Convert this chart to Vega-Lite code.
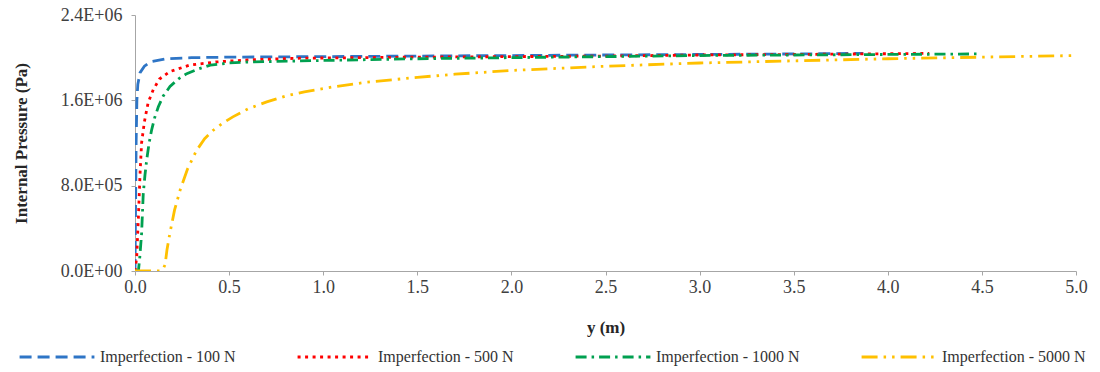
{
  "$schema": "https://vega.github.io/schema/vega-lite/v6.json",
  "width": 941,
  "height": 256,
  "autosize": "none",
  "padding": {"left": 135, "top": 15, "right": 24, "bottom": 101},
  "background": "white",
  "config": {
    "view": {"stroke": null},
    "font": "Liberation Serif",
    "axis": {"grid": false, "domainColor": "#a6a6a6", "tickColor": "#a6a6a6", "labelFont": "Liberation Serif", "labelFontSize": 18, "labelColor": "#404040", "titleFont": "Liberation Serif", "titleFontSize": 17, "titleFontWeight": "bold", "titleColor": "#262626"},
    "legend": {"labelFont": "Liberation Serif", "labelFontSize": 16, "labelColor": "#333333"}
  },
  "data": {"values": [
    {"s": "Imperfection - 100 N", "x": 0, "p": 0},
    {"s": "Imperfection - 100 N", "x": 0.003, "p": 600000},
    {"s": "Imperfection - 100 N", "x": 0.006, "p": 1200000},
    {"s": "Imperfection - 100 N", "x": 0.01, "p": 1600000},
    {"s": "Imperfection - 100 N", "x": 0.015, "p": 1750000},
    {"s": "Imperfection - 100 N", "x": 0.027, "p": 1860000},
    {"s": "Imperfection - 100 N", "x": 0.05, "p": 1920000},
    {"s": "Imperfection - 100 N", "x": 0.08, "p": 1960000},
    {"s": "Imperfection - 100 N", "x": 0.17, "p": 1990000},
    {"s": "Imperfection - 100 N", "x": 0.3, "p": 2000000},
    {"s": "Imperfection - 100 N", "x": 0.5, "p": 2005000},
    {"s": "Imperfection - 100 N", "x": 1.0, "p": 2010000},
    {"s": "Imperfection - 100 N", "x": 1.5, "p": 2015000},
    {"s": "Imperfection - 100 N", "x": 2.0, "p": 2020000},
    {"s": "Imperfection - 100 N", "x": 2.5, "p": 2025000},
    {"s": "Imperfection - 100 N", "x": 3.0, "p": 2030000},
    {"s": "Imperfection - 100 N", "x": 3.5, "p": 2035000},
    {"s": "Imperfection - 100 N", "x": 3.87, "p": 2040000},

    {"s": "Imperfection - 500 N", "x": 0, "p": 0},
    {"s": "Imperfection - 500 N", "x": 0.009, "p": 130000},
    {"s": "Imperfection - 500 N", "x": 0.018, "p": 500000},
    {"s": "Imperfection - 500 N", "x": 0.027, "p": 920000},
    {"s": "Imperfection - 500 N", "x": 0.035, "p": 1200000},
    {"s": "Imperfection - 500 N", "x": 0.05, "p": 1400000},
    {"s": "Imperfection - 500 N", "x": 0.07, "p": 1580000},
    {"s": "Imperfection - 500 N", "x": 0.097, "p": 1700000},
    {"s": "Imperfection - 500 N", "x": 0.13, "p": 1800000},
    {"s": "Imperfection - 500 N", "x": 0.186, "p": 1870000},
    {"s": "Imperfection - 500 N", "x": 0.29, "p": 1930000},
    {"s": "Imperfection - 500 N", "x": 0.43, "p": 1960000},
    {"s": "Imperfection - 500 N", "x": 0.61, "p": 1980000},
    {"s": "Imperfection - 500 N", "x": 0.88, "p": 1995000},
    {"s": "Imperfection - 500 N", "x": 1.5, "p": 2005000},
    {"s": "Imperfection - 500 N", "x": 2.0, "p": 2010000},
    {"s": "Imperfection - 500 N", "x": 2.5, "p": 2015000},
    {"s": "Imperfection - 500 N", "x": 3.0, "p": 2025000},
    {"s": "Imperfection - 500 N", "x": 3.5, "p": 2030000},
    {"s": "Imperfection - 500 N", "x": 4.22, "p": 2040000},

    {"s": "Imperfection - 1000 N", "x": 0, "p": 0},
    {"s": "Imperfection - 1000 N", "x": 0.018, "p": 0},
    {"s": "Imperfection - 1000 N", "x": 0.025, "p": 120000},
    {"s": "Imperfection - 1000 N", "x": 0.035, "p": 350000},
    {"s": "Imperfection - 1000 N", "x": 0.044, "p": 730000},
    {"s": "Imperfection - 1000 N", "x": 0.053, "p": 900000},
    {"s": "Imperfection - 1000 N", "x": 0.062, "p": 1040000},
    {"s": "Imperfection - 1000 N", "x": 0.075, "p": 1200000},
    {"s": "Imperfection - 1000 N", "x": 0.088, "p": 1320000},
    {"s": "Imperfection - 1000 N", "x": 0.105, "p": 1440000},
    {"s": "Imperfection - 1000 N", "x": 0.124, "p": 1540000},
    {"s": "Imperfection - 1000 N", "x": 0.15, "p": 1640000},
    {"s": "Imperfection - 1000 N", "x": 0.186, "p": 1730000},
    {"s": "Imperfection - 1000 N", "x": 0.23, "p": 1800000},
    {"s": "Imperfection - 1000 N", "x": 0.275, "p": 1850000},
    {"s": "Imperfection - 1000 N", "x": 0.33, "p": 1890000},
    {"s": "Imperfection - 1000 N", "x": 0.4, "p": 1930000},
    {"s": "Imperfection - 1000 N", "x": 0.5, "p": 1950000},
    {"s": "Imperfection - 1000 N", "x": 0.61, "p": 1960000},
    {"s": "Imperfection - 1000 N", "x": 0.88, "p": 1970000},
    {"s": "Imperfection - 1000 N", "x": 1.5, "p": 1990000},
    {"s": "Imperfection - 1000 N", "x": 2.0, "p": 2000000},
    {"s": "Imperfection - 1000 N", "x": 2.5, "p": 2010000},
    {"s": "Imperfection - 1000 N", "x": 3.0, "p": 2020000},
    {"s": "Imperfection - 1000 N", "x": 3.5, "p": 2025000},
    {"s": "Imperfection - 1000 N", "x": 4.0, "p": 2030000},
    {"s": "Imperfection - 1000 N", "x": 4.49, "p": 2035000},

    {"s": "Imperfection - 5000 N", "x": 0, "p": 0},
    {"s": "Imperfection - 5000 N", "x": 0.13, "p": 0},
    {"s": "Imperfection - 5000 N", "x": 0.15, "p": 20000},
    {"s": "Imperfection - 5000 N", "x": 0.16, "p": 60000},
    {"s": "Imperfection - 5000 N", "x": 0.17, "p": 200000},
    {"s": "Imperfection - 5000 N", "x": 0.186, "p": 360000},
    {"s": "Imperfection - 5000 N", "x": 0.21, "p": 570000},
    {"s": "Imperfection - 5000 N", "x": 0.24, "p": 760000},
    {"s": "Imperfection - 5000 N", "x": 0.28, "p": 960000},
    {"s": "Imperfection - 5000 N", "x": 0.327, "p": 1130000},
    {"s": "Imperfection - 5000 N", "x": 0.37, "p": 1240000},
    {"s": "Imperfection - 5000 N", "x": 0.416, "p": 1320000},
    {"s": "Imperfection - 5000 N", "x": 0.47, "p": 1390000},
    {"s": "Imperfection - 5000 N", "x": 0.52, "p": 1445000},
    {"s": "Imperfection - 5000 N", "x": 0.6, "p": 1520000},
    {"s": "Imperfection - 5000 N", "x": 0.7, "p": 1585000},
    {"s": "Imperfection - 5000 N", "x": 0.8, "p": 1640000},
    {"s": "Imperfection - 5000 N", "x": 0.9, "p": 1680000},
    {"s": "Imperfection - 5000 N", "x": 1.05, "p": 1725000},
    {"s": "Imperfection - 5000 N", "x": 1.23, "p": 1770000},
    {"s": "Imperfection - 5000 N", "x": 1.5, "p": 1815000},
    {"s": "Imperfection - 5000 N", "x": 1.7, "p": 1845000},
    {"s": "Imperfection - 5000 N", "x": 2.0, "p": 1880000},
    {"s": "Imperfection - 5000 N", "x": 2.5, "p": 1920000},
    {"s": "Imperfection - 5000 N", "x": 3.0, "p": 1950000},
    {"s": "Imperfection - 5000 N", "x": 3.5, "p": 1970000},
    {"s": "Imperfection - 5000 N", "x": 4.0, "p": 1990000},
    {"s": "Imperfection - 5000 N", "x": 4.5, "p": 2005000},
    {"s": "Imperfection - 5000 N", "x": 5.0, "p": 2020000}
  ]},
  "mark": {"type": "line", "strokeWidth": 2.8, "strokeCap": "butt", "clip": true},
  "encoding": {
    "x": {"field": "x", "type": "quantitative", "title": "y (m)",
      "scale": {"domain": [0, 5], "nice": false, "zero": false},
      "axis": {"values": [0, 0.5, 1, 1.5, 2, 2.5, 3, 3.5, 4, 4.5, 5], "format": ".1f", "tickSize": 4, "labelPadding": 3, "titlePadding": 23, "labelFlush": false}},
    "y": {"field": "p", "type": "quantitative", "title": "Internal Pressure (Pa)",
      "scale": {"domain": [0, 2400000], "nice": false},
      "axis": {"values": [0, 800000, 1600000, 2400000], "labelExpr": "replace(replace(format(datum.value, '.1e'), 'e+', 'E+0'), 'e-', 'E-0')", "tickSize": 4, "labelPadding": 9, "titlePadding": 30}},
    "color": {"field": "s", "type": "nominal", "title": null,
      "sort": ["Imperfection - 100 N", "Imperfection - 500 N", "Imperfection - 1000 N", "Imperfection - 5000 N"],
      "scale": {"domain": ["Imperfection - 100 N", "Imperfection - 500 N", "Imperfection - 1000 N", "Imperfection - 5000 N"], "range": ["#2e75c6", "#ff0000", "#00a050", "#ffc000"]},
      "legend": {"orient": "none", "legendX": -117, "legendY": 303, "direction": "horizontal", "columns": 4, "symbolType": "stroke", "symbolSize": 5600, "symbolStrokeWidth": 3, "columnPadding": 55, "labelOffset": 4}},
    "strokeDash": {"field": "s", "type": "nominal", "title": null,
      "sort": ["Imperfection - 100 N", "Imperfection - 500 N", "Imperfection - 1000 N", "Imperfection - 5000 N"],
      "scale": {"domain": ["Imperfection - 100 N", "Imperfection - 500 N", "Imperfection - 1000 N", "Imperfection - 5000 N"], "range": [[12, 6], [3, 4.5], [11, 5, 2.5, 5], [16, 6, 2.5, 6, 2.5, 6]]},
      "legend": {"orient": "none", "legendX": -117, "legendY": 303, "direction": "horizontal", "columns": 4, "symbolType": "stroke", "symbolSize": 5600, "symbolStrokeWidth": 3, "columnPadding": 55, "labelOffset": 4}}
  }
}
